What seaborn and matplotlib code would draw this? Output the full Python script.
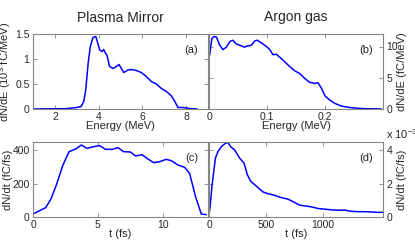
import numpy as np
import pandas as pd
import matplotlib
matplotlib.use("Agg")
import matplotlib.pyplot as plt
import seaborn as sns
from matplotlib.ticker import FuncFormatter

# (a) Plasma mirror energy spectrum, 10^3 fC/MeV
pm_energy = [1.0, 2.5, 3.0, 3.2, 3.32, 3.41, 3.52, 3.62, 3.74, 3.87, 3.94, 4.05, 4.16,
             4.23, 4.32, 4.38, 4.5, 4.66, 4.81, 4.93, 5.04, 5.15, 5.34, 5.5, 5.73, 5.95,
             6.18, 6.41, 6.64, 6.87, 7.1, 7.33, 7.48, 7.63, 7.86, 8.16, 8.5]
pm_dnde = [0.0, 0.007, 0.03, 0.05, 0.15, 0.38, 0.91, 1.25, 1.43, 1.45, 1.35, 1.18, 1.15,
           1.19, 1.11, 1.08, 0.85, 0.81, 0.85, 0.89, 0.81, 0.73, 0.78, 0.79, 0.77, 0.73,
           0.65, 0.55, 0.5, 0.41, 0.35, 0.26, 0.15, 0.03, 0.03, 0.01, 0.0]

# (b) Argon gas energy spectrum, fC/MeV
ar_energy = [0.001, 0.005, 0.009, 0.013, 0.018, 0.024, 0.03, 0.036, 0.041, 0.047, 0.056,
             0.061, 0.067, 0.073, 0.079, 0.083, 0.09, 0.099, 0.105, 0.11, 0.116, 0.122,
             0.13, 0.139, 0.148, 0.156, 0.165, 0.173, 0.182, 0.188, 0.194, 0.2, 0.208,
             0.217, 0.228, 0.24, 0.251, 0.268, 0.297]
ar_dnde = [8.6, 11.3, 11.6, 11.5, 10.3, 9.5, 9.9, 10.8, 11.0, 10.4, 10.1, 9.9, 10.1, 10.2,
           10.9, 11.0, 10.6, 10.0, 9.5, 8.7, 8.75, 8.3, 7.6, 6.8, 6.1, 5.7, 4.9, 4.3, 4.1,
           4.2, 3.3, 2.1, 1.44, 0.9, 0.48, 0.27, 0.16, 0.05, 0.0]

# (c) Plasma mirror time profile, fC/fs
pm_time = [0.0, 0.51, 0.98, 1.41, 1.8, 2.31, 2.78, 3.29, 3.73, 4.16, 4.68, 5.14, 5.6, 6.12,
           6.56, 6.99, 7.51, 7.92, 8.41, 8.87, 9.31, 9.77, 10.28, 10.67, 11.18, 11.7,
           12.08, 12.54, 12.98, 13.37]
pm_dndt = [18, 38, 56, 112, 192, 312, 392, 408, 432, 412, 422, 428, 406, 406, 416, 392,
           390, 366, 374, 348, 326, 332, 346, 338, 312, 298, 262, 122, 18, 14]

# (d) Argon gas time profile, 10^-3 fC/fs
ar_time = [6, 26, 56, 79, 108, 143, 167, 190, 225, 269, 307, 336, 365, 415, 474, 518, 576,
           634, 693, 751, 795, 839, 898, 956, 1015, 1073, 1132, 1190, 1249, 1307, 1365,
           1424, 1482, 1523]
ar_dndt = [0.37, 1.85, 3.53, 3.93, 4.22, 4.42, 4.46, 4.22, 4.02, 3.53, 3.23, 2.54, 2.15,
           1.85, 1.5, 1.4, 1.3, 1.16, 1.07, 0.87, 0.71, 0.67, 0.61, 0.51, 0.47, 0.43, 0.41,
           0.41, 0.34, 0.32, 0.32, 0.3, 0.28, 0.28]

sns.set_style("white")
plt.rcParams["font.family"] = ["Liberation Sans", "DejaVu Sans"]
plt.rcParams["mathtext.fontset"] = "custom"
plt.rcParams["mathtext.rm"] = "Liberation Sans"
plt.rcParams["mathtext.it"] = "Liberation Sans:italic"

W, H = 415, 244
fig = plt.figure(figsize=(W / 100, H / 100), dpi=100)


def make_axes(left, right, top, bottom):
    return fig.add_axes([left / W, (H - bottom) / H, (right - left) / W, (bottom - top) / H])


ax_a = make_axes(33, 208, 34, 109)
ax_b = make_axes(209, 383, 34, 109)
ax_c = make_axes(33, 208, 142, 217)
ax_d = make_axes(209, 383, 142, 217)

fmt = FuncFormatter(lambda v, p: f"{v:g}")
spine_col = "#858585"

panels = [
    (ax_a, pm_energy, pm_dnde, (1, 9), (0, 1.5), [2, 4, 6, 8], [0, 0.5, 1, 1.5], "(a)", "left"),
    (ax_b, ar_energy, ar_dnde, (0, 0.3), (0, 12), [0, 0.1, 0.2], [0, 5, 10], "(b)", "right"),
    (ax_c, pm_time, pm_dndt, (0, 13.5), (0, 450), [0, 5, 10], [0, 200, 400], "(c)", "left"),
    (ax_d, ar_time, ar_dndt, (0, 1525), (0, 4.5), [0, 500, 1000], [0, 2, 4], "(d)", "right"),
]

for ax, x, y, xl, yl, xt, yt, tag, side in panels:
    df = pd.DataFrame({"x": x, "y": y})
    sns.lineplot(data=df, x="x", y="y", ax=ax, color="#0000ff", linewidth=1.1,
                 estimator=None, sort=False)
    ax.set_xlim(*xl)
    ax.set_ylim(*yl)
    ax.set_xticks(xt)
    ax.set_yticks(yt)
    ax.xaxis.set_major_formatter(fmt)
    ax.yaxis.set_major_formatter(fmt)
    for s in ax.spines.values():
        s.set_color(spine_col)
        s.set_linewidth(0.8)
    ax.tick_params(direction="in", length=3, width=0.6, color=spine_col,
                   labelsize=7.5, pad=2.5, top=True, bottom=True, left=True, right=True)
    if side == "right":
        ax.yaxis.tick_right()
        ax.tick_params(left=True, right=True, direction="in")
        ax.yaxis.set_label_position("right")
    ax.text(0.905, 0.79, tag, transform=ax.transAxes, ha="center", va="center", fontsize=8)
    ax.set_xlabel("")
    ax.set_ylabel("")

ax_a.set_xlabel("Energy (MeV)", fontsize=8)
ax_b.set_xlabel("Energy (MeV)", fontsize=8)
ax_c.set_xlabel("t (fs)", fontsize=8)
ax_d.set_xlabel("t (fs)", fontsize=8)
for ax in (ax_a, ax_b, ax_c, ax_d):
    ax.xaxis.set_label_coords(0.5, -0.165)

ax_a.set_ylabel("dN/dE (10$^3$ fC/MeV)", fontsize=8)
ax_c.set_ylabel("dN/dt (fC/fs)", fontsize=8)
ax_b.set_ylabel("dN/dE (fC/MeV)", fontsize=8)
ax_d.set_ylabel("dN/dt (fC/fs)", fontsize=8)
ax_a.yaxis.set_label_coords(-0.112, 0.5)
ax_c.yaxis.set_label_coords(-0.112, 0.5)
ax_b.yaxis.set_label_coords(1.08, 0.5)
ax_d.yaxis.set_label_coords(1.08, 0.5)

ax_a.set_title("Plasma Mirror", fontsize=10, pad=9)
ax_b.set_title("Argon gas", fontsize=10, pad=9)

fig.text(386 / W, (H - 139) / H, "x 10$^{-3}$", fontsize=8, ha="left", va="baseline")

fig.savefig("out.png", dpi=100)
